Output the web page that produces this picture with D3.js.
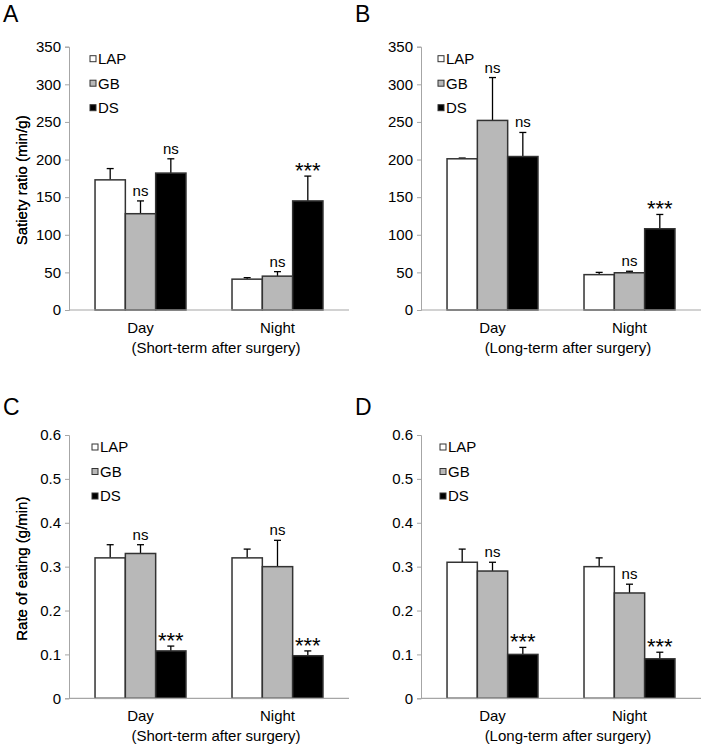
<!DOCTYPE html>
<html>
<head>
<meta charset="utf-8">
<script src="https://cdn.jsdelivr.net/npm/d3@7"></script>
<style>
  html, body { margin: 0; padding: 0; background: #fff; }
  svg text { font-family: "Liberation Sans", Arial, Helvetica, sans-serif; fill: #000; }
</style>
</head>
<body>
<svg id="chart" width="705" height="749"></svg>
<script>
// ---------- DATA ----------
const categories = ["Day", "Night"];
const groups = ["LAP", "GB", "DS"];

// Panel A: satiety ratio, short-term
const satShortLAP = [173, 41];
const satShortGB  = [128, 45];
const satShortDS  = [182, 145];
const satShortLAPErr = [15, 2];
const satShortGBErr  = [17, 6];
const satShortDSErr  = [19, 33];

// Panel B: satiety ratio, long-term
const satLongLAP = [201, 47];
const satLongGB  = [252, 49.5];
const satLongDS  = [204, 108];
const satLongLAPErr = [1, 3];
const satLongGBErr  = [57, 2];
const satLongDSErr  = [32, 19];

// Panel C: rate of eating, short-term
const rateShortLAP = [0.32, 0.32];
const rateShortGB  = [0.33, 0.30];
const rateShortDS  = [0.108, 0.097];
const rateShortLAPErr = [0.03, 0.02];
const rateShortGBErr  = [0.02, 0.06];
const rateShortDSErr  = [0.011, 0.011];

// Panel D: rate of eating, long-term
const rateLongLAP = [0.31, 0.30];
const rateLongGB  = [0.29, 0.24];
const rateLongDS  = [0.10, 0.09];
const rateLongLAPErr = [0.03, 0.02];
const rateLongGBErr  = [0.02, 0.02];
const rateLongDSErr  = [0.016, 0.015];

// Tick labels
const satietyTicks = [0, 50, 100, 150, 200, 250, 300, 350];
const rateTicks = [0, 0.1, 0.2, 0.3, 0.4, 0.5, 0.6];

// Significance annotations [category, group, label]
const annotA = [["Day", "GB", "ns"], ["Day", "DS", "ns"], ["Night", "GB", "ns"], ["Night", "DS", "***"]];
const annotB = [["Day", "GB", "ns"], ["Day", "DS", "ns"], ["Night", "GB", "ns"], ["Night", "DS", "***"]];
const annotC = [["Day", "GB", "ns"], ["Day", "DS", "***"], ["Night", "GB", "ns"], ["Night", "DS", "***"]];
const annotD = [["Day", "GB", "ns"], ["Day", "DS", "***"], ["Night", "GB", "ns"], ["Night", "DS", "***"]];

// ---------- LAYOUT / STYLE ----------
const fills = { LAP: "#ffffff", GB: "#b8b8b8", DS: "#000000" };
const axisColor = "#a6a6a6";
const barStroke = "#333333";

const panels = [
  { letter: "A", ax: 69, top: 46.7, bottom: 310, ticks: satietyTicks,
    ylabel: "Satiety ratio (min/g)", sub: "(Short-term after surgery)",
    vals: { LAP: satShortLAP, GB: satShortGB, DS: satShortDS },
    errs: { LAP: satShortLAPErr, GB: satShortGBErr, DS: satShortDSErr },
    annot: annotA, legendX: 90, letterX: 3, letterY: 22 },
  { letter: "B", ax: 421, top: 46.7, bottom: 310, ticks: satietyTicks,
    ylabel: "Satiety ratio (min/g)", sub: "(Long-term after surgery)",
    vals: { LAP: satLongLAP, GB: satLongGB, DS: satLongDS },
    errs: { LAP: satLongLAPErr, GB: satLongGBErr, DS: satLongDSErr },
    annot: annotB, legendX: 438, letterX: 355, letterY: 22 },
  { letter: "C", ax: 69, top: 435, bottom: 698.3, ticks: rateTicks,
    ylabel: "Rate of eating (g/min)", sub: "(Short-term after surgery)",
    vals: { LAP: rateShortLAP, GB: rateShortGB, DS: rateShortDS },
    errs: { LAP: rateShortLAPErr, GB: rateShortGBErr, DS: rateShortDSErr },
    annot: annotC, legendX: 92, letterX: 3, letterY: 415 },
  { letter: "D", ax: 421, top: 435, bottom: 698.3, ticks: rateTicks,
    ylabel: "Rate of eating (g/min)", sub: "(Long-term after surgery)",
    vals: { LAP: rateLongLAP, GB: rateLongGB, DS: rateLongDS },
    errs: { LAP: rateLongLAPErr, GB: rateLongGBErr, DS: rateLongDSErr },
    annot: annotD, legendX: 440, letterX: 355, letterY: 415 }
];

const svg = d3.select("#chart");

panels.forEach(p => {
  const g = svg.append("g");
  const yMax = p.ticks[p.ticks.length - 1];
  const y = d3.scaleLinear().domain([0, yMax]).range([p.bottom, p.top]);
  const x = d3.scaleBand().domain(categories)
    .range([p.ax, p.ax + 280]).paddingInner(0.336).paddingOuter(0.19);
  const xi = d3.scaleBand().domain(groups).range([0, x.bandwidth()]).padding(0);

  // Panel letter
  g.append("text").attr("x", p.letterX).attr("y", p.letterY)
    .style("font-size", "23px").text(p.letter);

  // Y axis
  const yAxis = d3.axisLeft(y).tickValues(p.ticks).tickSize(4).tickPadding(4)
    .tickFormat(d => String(d));
  const ya = g.append("g").attr("transform", `translate(${p.ax},0)`).call(yAxis);
  ya.select(".domain").attr("stroke", axisColor).attr("stroke-width", 1);
  ya.selectAll(".tick line").attr("stroke", axisColor);
  ya.selectAll(".tick text").style("font-size", "15px").attr("fill", "#000")
    .style("font-family", '"Liberation Sans", Arial, sans-serif');

  // Y label
  const yc = (p.top + p.bottom) / 2 + 2;
  g.append("text").attr("transform", `translate(27,${yc}) rotate(-90)`)
    .attr("text-anchor", "middle").style("font-size", "15px").text(p.ylabel);

  // Bars
  const rows = [];
  categories.forEach((c, ci) => groups.forEach(s => {
    rows.push({ c, s, v: p.vals[s][ci], e: p.errs[s][ci] });
  }));

  // Error bars (upper only)
  const eb = g.append("g");
  rows.forEach(r => {
    const cx = x(r.c) + xi(r.s) + xi.bandwidth() / 2;
    eb.append("line").attr("x1", cx).attr("x2", cx)
      .attr("y1", y(r.v)).attr("y2", y(r.v + r.e))
      .attr("stroke", "#000").attr("stroke-width", 1.3);
    eb.append("line").attr("x1", cx - 3.5).attr("x2", cx + 3.5)
      .attr("y1", y(r.v + r.e)).attr("y2", y(r.v + r.e))
      .attr("stroke", "#000").attr("stroke-width", 1.3);
  });

  g.append("g").selectAll("rect").data(rows).join("rect")
    .attr("x", d => x(d.c) + xi(d.s))
    .attr("y", d => y(d.v))
    .attr("width", xi.bandwidth())
    .attr("height", d => y(0) - y(d.v))
    .attr("fill", d => fills[d.s])
    .attr("stroke", barStroke).attr("stroke-width", 1.5);

  // X axis line
  g.append("line").attr("x1", p.ax).attr("x2", x.range()[1])
    .attr("y1", p.bottom).attr("y2", p.bottom)
    .attr("stroke", axisColor).attr("stroke-width", 1.2);

  // X category labels
  categories.forEach(c => {
    g.append("text").attr("x", x(c) + x.bandwidth() / 2).attr("y", p.bottom + 23)
      .attr("text-anchor", "middle").style("font-size", "15px").text(c);
  });
  g.append("text").attr("x", p.ax + 147).attr("y", p.bottom + 43)
    .attr("text-anchor", "middle").style("font-size", "15px").text(p.sub);

  // Annotations
  p.annot.forEach(([c, s, t]) => {
    const ci = categories.indexOf(c);
    const cx = x(c) + xi(s) + xi.bandwidth() / 2;
    const ty = y(p.vals[s][ci] + p.errs[s][ci]);
    if (t === "ns") {
      g.append("text").attr("x", cx).attr("y", ty - 5)
        .attr("text-anchor", "middle").style("font-size", "15px").text(t);
    } else {
      g.append("text").attr("x", cx).attr("y", ty + 2)
        .attr("text-anchor", "middle").style("font-size", "22px").text(t);
    }
  });

  // Legend
  groups.forEach((s, i) => {
    const ly = p.top + 12 + i * 24.5;
    g.append("rect").attr("x", p.legendX).attr("y", ly - 3)
      .attr("width", 6).attr("height", 6)
      .attr("fill", fills[s]).attr("stroke", barStroke).attr("stroke-width", 1);
    g.append("text").attr("x", p.legendX + 8).attr("y", ly + 5.3)
      .style("font-size", "15px").text(s);
  });
});
</script>
</body>
</html>
